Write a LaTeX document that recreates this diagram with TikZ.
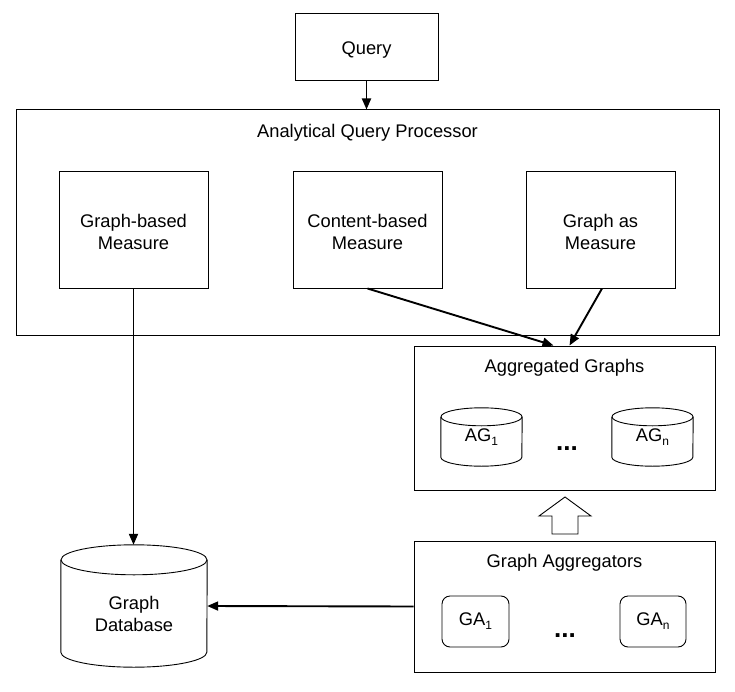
\documentclass[tikz,border=0pt]{standalone}
\usepackage{fontspec}
\setmainfont{Liberation Sans}
\usetikzlibrary{arrows.meta}
\newcommand\subn[1]{\raisebox{-4pt}{\fontsize{12}{12}\selectfont #1}}
\newcommand\bigdots{{\fontsize{26}{26}\selectfont\bfseries ...}}
\begin{document}
\begin{tikzpicture}[x=1pt,y=-1pt,
  box/.style={draw, line width=1pt, inner sep=0pt, align=center},
  lbl/.style={inner sep=0pt, align=center},
  conn/.style={line width=1.9pt, -{Triangle[length=11pt,width=9pt]}},
  cylbody/.style={line width=0.9pt},
  every node/.style={font=\fontsize{18.3}{22}\selectfont}]
\useasboundingbox (0,0) rectangle (735,692);

% top query
\node[box, minimum width=143pt, minimum height=67pt] (query) at (366.5,47.5) {};
\node[lbl] (queryt) at (366.5,50) {Query};

% analytical query processor
\node[box, minimum width=703pt, minimum height=225pt] (aqp) at (367.5,222.5) {};
\node[lbl] (aqpt) at (367.5,133) {Analytical Query Processor};
\node[box, minimum width=149pt, minimum height=116pt] (gbm) at (133.5,230) {};
\node[box, minimum width=149pt, minimum height=116pt] (cbm) at (367.5,230) {};
\node[box, minimum width=149pt, minimum height=116pt] (gam) at (600.5,230) {};
\node[lbl] (gbmt) at (133.5,232) {Graph-based\\Measure};
\node[lbl] (cbmt) at (367.5,232) {Content-based\\Measure};
\node[lbl] (gamt) at (600.5,232) {Graph as\\Measure};

% aggregated graphs
\node[box, minimum width=301pt, minimum height=144pt] (ag) at (564.5,418) {};
\node[lbl] (agt) at (564.5,368) {Aggregated Graphs};
\node[lbl, minimum width=81pt, minimum height=58pt] (ag1) at (481.5,437) {AG\subn{1}};
\node[lbl, minimum width=81pt, minimum height=58pt] (agn) at (652.5,437) {AG\subn{n}};
\node[lbl, anchor=base] (agdots) at (567,450) {\bigdots};
\foreach \c in {ag1,agn}{
  \draw[cylbody] ([yshift=-9pt]\c.north west) -- ([yshift=9pt]\c.south west)
    arc[start angle=180, end angle=360, x radius=40.5pt, y radius=9pt]
    -- ([yshift=-9pt]\c.north east);
  \draw[cylbody] ([yshift=-9pt]\c.north) ellipse[x radius=40.5pt, y radius=9pt];
}

% hollow arrow
\draw[line width=0.9pt] (552,534) -- (552,516) -- (539,516) -- (565,497) -- (591,516) -- (578,516) -- (578,534) -- cycle;

% graph aggregators
\node[box, minimum width=301pt, minimum height=131pt] (ga) at (564.5,606.5) {};
\node[lbl] (gat) at (564.5,563) {Graph Aggregators};
\node[box, line width=0.9pt, rounded corners=8pt, minimum width=67pt, minimum height=51pt] (ga1) at (475.5,621.5) {GA\subn{1}};
\node[box, line width=0.9pt, rounded corners=8pt, minimum width=66pt, minimum height=51pt] (gan) at (653,621.5) {GA\subn{n}};
\node[lbl, anchor=base] (gadots) at (565,637) {\bigdots};

% graph database
\node[lbl, minimum width=146pt, minimum height=122pt] (db) at (134,606) {};
\node[lbl] (dbt) at (134,614) {Graph\\Database};
\draw[cylbody] ([yshift=-15pt]db.north west) -- ([yshift=15pt]db.south west)
  arc[start angle=180, end angle=360, x radius=73pt, y radius=15pt]
  -- ([yshift=-15pt]db.north east);
\draw[cylbody] ([yshift=-15pt]db.north) ellipse[x radius=73pt, y radius=15pt];

% connectors
\draw[conn] (query.south) -- (query.south |- aqp.north);
\draw[conn] (gbm.south) -- (gbm.south |- db.north);
\draw[conn] (cbm.south) -- ([xshift=-11pt]ag.north);
\draw[conn] ([xshift=1.5pt]gam.south) -- ([xshift=5pt]ag.north);
\draw[conn] (ga.west) -- (db.east);
\end{tikzpicture}
\end{document}
